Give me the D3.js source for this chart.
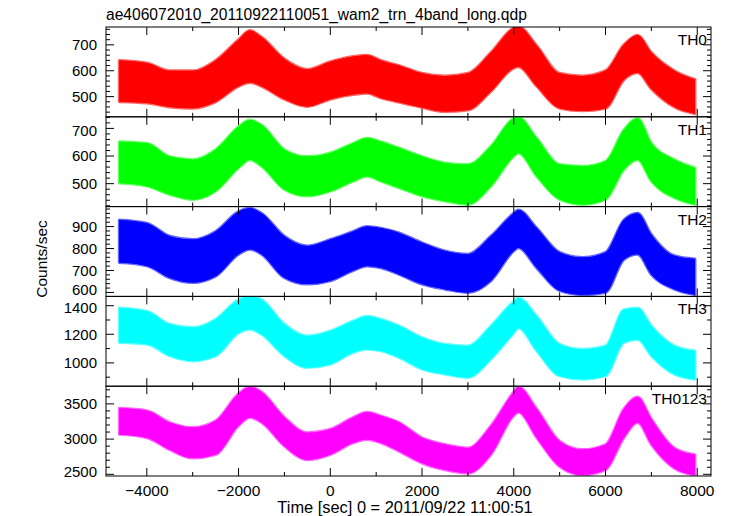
<!DOCTYPE html>
<html><head><meta charset="utf-8">
<script src="https://cdn.jsdelivr.net/npm/d3@7"></script>
<style>body{margin:0;background:#fff}svg{display:block}text{font-family:"Liberation Sans",Arial,sans-serif;fill:#000}</style>
</head><body><div id="chart"></div>
<script>
const title = "ae406072010_20110922110051_wam2_trn_4band_long.qdp";
const xLabel = "Time [sec] 0 = 2011/09/22 11:00:51";
const yLabel = "Counts/sec";
const panelNames = ["TH0","TH1","TH2","TH3","TH0123"];
const panelColors = ["#ff0000","#00ff00","#0000ff","#00ffff","#ff00ff"];
const xTicks = [-4000,-2000,0,2000,4000,6000,8000];
const time = [-4600,-4000,-3500,-3000,-2500,-2000,-1750,-1500,-1000,-500,0,500,800,1100,1500,2000,2500,3000,3500,4000,4100,4500,5000,5500,6000,6400,6700,7000,7500,7950];
// lower / upper envelope of each noisy light curve (counts/sec)
const th0Lo = [480,475,460,455,480,540,555,540,490,462,490,508,513,495,478,458,442,448,520,610,615,540,455,445,455,565,592,530,460,434];
const th0Hi = [640,630,600,600,640,720,755,730,645,605,635,655,660,640,620,590,580,590,670,765,770,697,590,580,600,700,737,670,600,566];
const th1Lo = [502,491,461,443,473,557,587,563,479,455,473,509,527,509,485,455,437,425,491,599,611,527,443,425,443,551,587,509,449,425];
const th1Hi = [652,646,598,587,623,706,730,712,623,598,611,646,664,652,629,598,575,569,635,736,740,664,569,563,581,694,736,646,587,557];
const th2Lo = [736,721,667,645,674,774,797,774,667,638,653,700,721,712,682,638,615,600,653,789,804,712,608,590,600,750,774,682,615,590];
const th2Hi = [930,915,856,841,878,968,983,961,856,812,841,878,900,893,871,826,789,774,856,961,976,893,782,759,782,930,961,863,767,752];
const th3Lo = [1142,1130,1049,1014,1049,1209,1235,1200,1049,967,991,1072,1095,1084,1037,956,921,898,1026,1209,1244,1084,909,886,909,1142,1163,1049,921,886];
const th3Hi = [1384,1361,1270,1247,1305,1442,1465,1442,1270,1188,1223,1293,1326,1305,1258,1177,1130,1119,1258,1430,1453,1326,1130,1095,1119,1372,1384,1258,1119,1084];
const sumLo = [3067,3020,2850,2730,2780,3190,3307,3236,2900,2707,2780,2947,2995,2947,2827,2660,2563,2515,2779,3332,3380,3019,2610,2490,2563,3019,3236,2923,2587,2490];
const sumHi = [3437,3404,3235,3163,3260,3644,3740,3668,3308,3091,3140,3308,3380,3330,3235,3019,2923,2875,3187,3668,3740,3428,2971,2851,2923,3428,3596,3284,2875,2779];
const yDomains = [[422,769],[417,742],[582,991],[837,1465],[2476,3751]];
const yMajor = [[500,600,700],[500,600,700],[600,700,800,900],[1000,1200,1400],[2500,3000,3500]];
const yMinorStep = [20,20,20,100,100];

const los=[th0Lo,th1Lo,th2Lo,th3Lo,sumLo], his=[th0Hi,th1Hi,th2Hi,th3Hi,sumHi];
const W=729,H=516, L=106, R=711, T=27, B=476;
const ph=(B-T)/5;
const svg=d3.select("#chart").append("svg").attr("width",W).attr("height",H);
const x=d3.scaleLinear().domain([-4890,8300]).range([L,R]);
const xMinor=d3.range(-4000,8001,1000);

svg.append("text").attr("x",106).attr("y",20).attr("font-size",15.6).text(title);

for(let p=0;p<5;p++){
  const top=T+p*ph, bot=top+ph;
  const y=d3.scaleLinear().domain(yDomains[p]).range([bot,top]);
  const g=svg.append("g");
  const clipId="clip"+p;
  g.append("clipPath").attr("id",clipId).append("rect").attr("x",L).attr("y",top).attr("width",R-L).attr("height",ph);
  const data=time.map((t,i)=>({t,lo:los[p][i],hi:his[p][i]}));
  const area=d3.area().x(d=>x(d.t)).y0(d=>y(d.lo)).y1(d=>y(d.hi)).curve(d3.curveMonotoneX);
  const dg=g.append("g").attr("clip-path",`url(#${clipId})`);
  dg.append("path").attr("d",area(data)).attr("fill",panelColors[p]).attr("stroke",panelColors[p]).attr("stroke-width",3).attr("stroke-opacity",0.6).attr("stroke-linejoin","round");
  dg.append("path").attr("d",area(data)).attr("fill",panelColors[p]);
  // frame
  g.append("rect").attr("x",L).attr("y",top).attr("width",R-L).attr("height",ph).attr("fill","none").attr("stroke","#000").attr("stroke-width",1);
  // y ticks
  const minors=d3.range(Math.ceil(yDomains[p][0]/yMinorStep[p])*yMinorStep[p], yDomains[p][1], yMinorStep[p]);
  minors.forEach(v=>{
    const maj=yMajor[p].includes(v); const len=maj?8:4;
    g.append("line").attr("x1",L).attr("x2",L+len).attr("y1",y(v)).attr("y2",y(v)).attr("stroke","#000");
    g.append("line").attr("x1",R).attr("x2",R-len).attr("y1",y(v)).attr("y2",y(v)).attr("stroke","#000");
  });
  yMajor[p].forEach(v=>{
    let yy=y(v);
    if(bot-yy<6) yy-=2.2; else if(yy-top<12) yy+=2.2;
    g.append("text").attr("x",L-9).attr("y",yy).attr("dy","0.35em").attr("text-anchor","end").attr("font-size",15).text(v);
  });
  // x ticks
  xMinor.forEach(v=>{
    const maj=xTicks.includes(v); const len=maj?8:4;
    g.append("line").attr("x1",x(v)).attr("x2",x(v)).attr("y1",bot).attr("y2",bot-len).attr("stroke","#000");
    g.append("line").attr("x1",x(v)).attr("x2",x(v)).attr("y1",top).attr("y2",top+len).attr("stroke","#000");
  });
  g.append("text").attr("x",R-4).attr("y",top+18).attr("text-anchor","end").attr("font-size",15.5).text(panelNames[p]);
}
xTicks.forEach(v=>{
  svg.append("text").attr("x",x(v)).attr("y",B+20).attr("text-anchor","middle").attr("font-size",15.5).text(v<0?"\u2212"+(-v):v);
});
svg.append("text").attr("x",405).attr("y",B+37).attr("text-anchor","middle").attr("font-size",16.4).text(xLabel);
svg.append("text").attr("transform",`translate(47,259) rotate(-90)`).attr("text-anchor","middle").attr("font-size",15.5).text(yLabel);
</script></body></html>
